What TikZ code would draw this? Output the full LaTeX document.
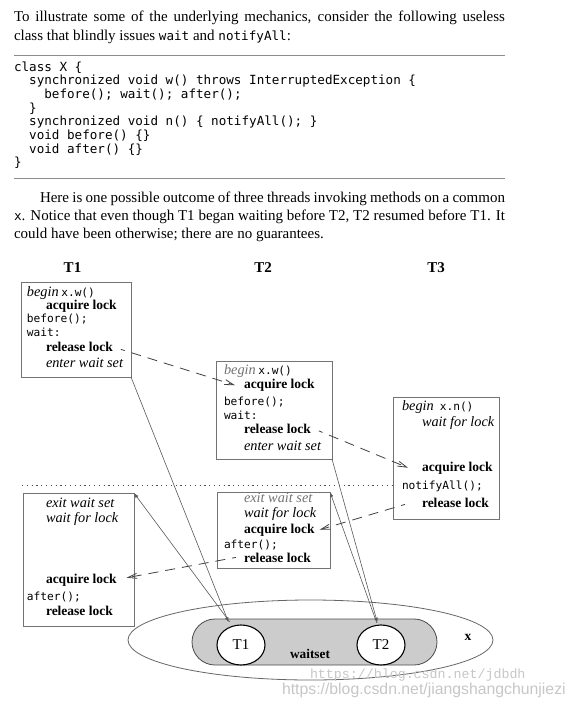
\documentclass[tikz,border=0pt]{standalone}
\usepackage{fontspec}
\setmainfont{Liberation Serif}
\newfontfamily\mymono{DejaVu Sans Mono}
\newfontfamily\wmmono{Liberation Mono}
\newfontfamily\wmsans{Liberation Sans}
\usetikzlibrary{arrows.meta,shapes.geometric}
\newcommand\cdt[1]{{\mymono\fontsize{12.6}{13.7}\selectfont #1}}
\newcommand\cdd[1]{{\mymono\fontsize{11.2}{13}\selectfont #1}}
\newcommand\ib[1]{{\fontsize{14.3}{15}\selectfont\itshape #1}}
\newcommand\bb[1]{{\fontsize{13.5}{15}\selectfont\bfseries #1}}
\colorlet{boxgray}{black!55}
\colorlet{linegray}{black!65}
\begin{document}
\begin{tikzpicture}[x=1pt,y=-1pt,
  txt/.style={anchor=base west, inner sep=0pt, outer sep=0pt, font=\fontsize{15}{18.5}\selectfont},
  cd/.style={anchor=base west, inner sep=0pt, outer sep=0pt, font=\mymono\fontsize{12.6}{13.7}\selectfont},
  lb/.style={anchor=base west, inner sep=0pt, outer sep=0pt},
  bx/.style={draw=boxgray, line width=0.8pt, inner sep=0pt, outer sep=0pt, anchor=north west},
  dsh/.style={draw=black!75, line width=0.8pt, dash pattern=on 10pt off 7pt, dash phase=6pt, -{Straight Barb[length=9pt,width=5pt]}},
  sl/.style={draw=linegray, line width=0.6pt, -{Latex[length=5pt,width=3.5pt]}},
  hd/.style={font=\fontsize{15}{18}\selectfont\bfseries, inner sep=0pt},
  circ/.style={ellipse, draw=black, line width=1.1pt, fill=white, minimum width=48pt, minimum height=40pt, inner sep=0pt, font=\fontsize{15}{16}\selectfont},
  rule/.style={draw=black!45, line width=0.8pt}
]
\fill[white] (0,0) rectangle (577,707);
\useasboundingbox (0,0) rectangle (577,707);

% ---------- text ----------
\node[txt] (p1) at (14,21) {\makebox[491pt][s]{To illustrate some of the underlying mechanics, consider the following useless}};
\node[txt] (p2) at (14,40) {class that blindly issues \cdt{wait} and \cdt{notifyAll}:};
\coordinate (ra) at (14,55);
\coordinate (rb) at (505,55);
\draw[rule] (ra) -- (rb);

\node[cd] (k1) at (14,71) {class X \{};
\node[cd] (k2) at (29.2,84.7) {synchronized void w() throws InterruptedException \{};
\node[cd] (k3) at (44.4,98.4) {before(); wait(); after();};
\node[cd] (k4) at (29.2,112.1) {\}};
\node[cd] (k5) at (29.2,125.8) {synchronized void n() \{ notifyAll(); \}};
\node[cd] (k6) at (29.2,139.5) {void before() \{\}};
\node[cd] (k7) at (29.2,153.2) {void after() \{\}};
\node[cd] (k8) at (14,166.9) {\}};

\coordinate (rc) at (14,178);
\coordinate (rd) at (505,178);
\draw[rule] (rc) -- (rd);

\node[txt] (p3) at (40,202) {\makebox[465pt][s]{Here is one possible outcome of three threads invoking methods on a common}};
\node[txt] (p4) at (14,220) {\makebox[491pt][s]{\cdt{x}. Notice that even though T1 began waiting before T2, T2 resumed before T1. It}};
\node[txt] (p5) at (14,238) {could have been otherwise; there are no guarantees.};

% ---------- headings ----------
\node[hd] (h1) at (72.5,268) {T1};
\node[hd] (h2) at (263,268) {T2};
\node[hd] (h3) at (436,268) {T3};

% ---------- wait set ----------
\node[ellipse, draw=black!60, line width=0.8pt, minimum width=365pt, minimum height=80pt, inner sep=0pt] (xobj) at (310.5,640) {};
\node[draw=black!70, line width=0.8pt, fill=black!20, rounded corners=23pt, minimum width=245pt, minimum height=46pt, inner sep=0pt] (ws) at (314.5,642) {};
\node[circ] (c1) at (241,645) {T1};
\node[circ] (c2) at (381,645) {T2};
\node[inner sep=0pt, font=\fontsize{13.3}{15}\selectfont\bfseries] (wsl) at (310,654) {waitset};
\node[inner sep=0pt, font=\fontsize{13.5}{15}\selectfont\bfseries] (xl) at (468,637) {x};

% ---------- boxes ----------
\node[bx, minimum width=110pt, minimum height=95pt] (b1) at (21,282) {};
\node[bx, minimum width=116pt, minimum height=98pt] (b2) at (216,361) {};
\node[bx, minimum width=106pt, minimum height=122pt] (b3) at (393,397) {};
\node[bx, minimum width=111pt, minimum height=133pt] (b4) at (23,493) {};
\node[bx, minimum width=113pt, minimum height=76pt] (b5) at (217,492) {};

% T1 upper
\node[lb] (u1a) at (27,296) {\ib{begin} \cdd{x.w()}};
\node[lb] (u1b) at (46,309) {\bb{acquire lock}};
\node[lb] (u1c) at (27,322.5) {\cdd{before();}};
\node[lb] (u1d) at (27,336.5) {\cdd{wait:}};
\node[lb] (r1) at (46,351) {\bb{release lock}};
\node[lb] (u1f) at (46,367) {\ib{enter wait set}};

% T2 upper
\node[lb] (u2a) at (224,374.5) {\textcolor{black!55}{\ib{begin}} \cdd{x.w()}};
\node[lb] (q2) at (244,388.5) {\bb{acquire lock}};
\node[lb] (u2c) at (224,405) {\cdd{before();}};
\node[lb] (u2d) at (224,419) {\cdd{wait:}};
\node[lb] (r2) at (244,433.5) {\bb{release lock}};
\node[lb] (u2f) at (244,450.5) {\ib{enter wait set}};

% T3
\node[lb] (u3a) at (402,410) {\ib{begin}\hspace{6pt}\cdd{x.n()}};
\node[lb] (u3b) at (422,426) {\ib{wait for lock}};
\node[lb] (q3) at (422,471) {\bb{acquire lock}};
\node[lb] (u3d) at (402,489) {\cdd{notifyAll();}};
\node[lb] (r3) at (422,507) {\bb{release lock}};

% T1 lower
\node[lb] (l1a) at (46,507) {\ib{exit wait set}};
\node[lb] (l1b) at (46,522) {\ib{wait for lock}};
\node[lb] (q5) at (46,583) {\bb{acquire lock}};
\node[lb] (l1d) at (27,600) {\cdd{after();}};
\node[lb] (l1e) at (46,615) {\bb{release lock}};

% T2 lower
\node[lb] (l2a) at (244,502) {\textcolor{black!55}{\ib{exit wait set}}};
\node[lb] (l2b) at (244,517) {\ib{wait for lock}};
\node[lb] (q4) at (244,533) {\bb{acquire lock}};
\node[lb] (l2d) at (224,548) {\cdd{after();}};
\node[lb] (r4) at (244,562) {\bb{release lock}};

% dotted line
\coordinate (dl) at (22,485);
\draw[black!70, line width=0.8pt, dash pattern=on 1.2pt off 3.6pt] (dl) -- (dl -| b3.west);

% dashed hand-offs
\draw[dsh] ([xshift=8pt,yshift=-3pt]r1.east) -- ([xshift=-9pt]q2.west);
\draw[dsh] ([xshift=8pt,yshift=-2pt]r2.east) -- ([xshift=-14pt]q3.west);
\draw[dsh] ([xshift=-17pt,yshift=-2pt]r3.west) -- ([xshift=5pt]q4.east);
\draw[dsh] ([xshift=-8pt]r4.west) -- ([xshift=10pt,yshift=2pt]q5.east);

% solid wait-set lines
\draw[sl] (b1.south east) -- ([yshift=5pt]c1.125);
\draw[sl] ([yshift=5pt]c1.122) -- (b4.north east);
\draw[sl] (b2.south east) -- ([yshift=2pt]c2.100);
\draw[sl] ([yshift=2pt]c2.102) -- (b5.north east);

% watermark
\node[lb, font=\wmmono\fontsize{13.3}{15}\selectfont, text=black!22] (wm1) at (310,678.5) {https://blog.csdn.net/jdbdh};
\node[lb, font=\wmsans\fontsize{15.8}{17}\selectfont, text=black!22] (wm2) at (282,694) {https://blog.csdn.net/jiangshangchunjiezi};
\end{tikzpicture}
\end{document}
